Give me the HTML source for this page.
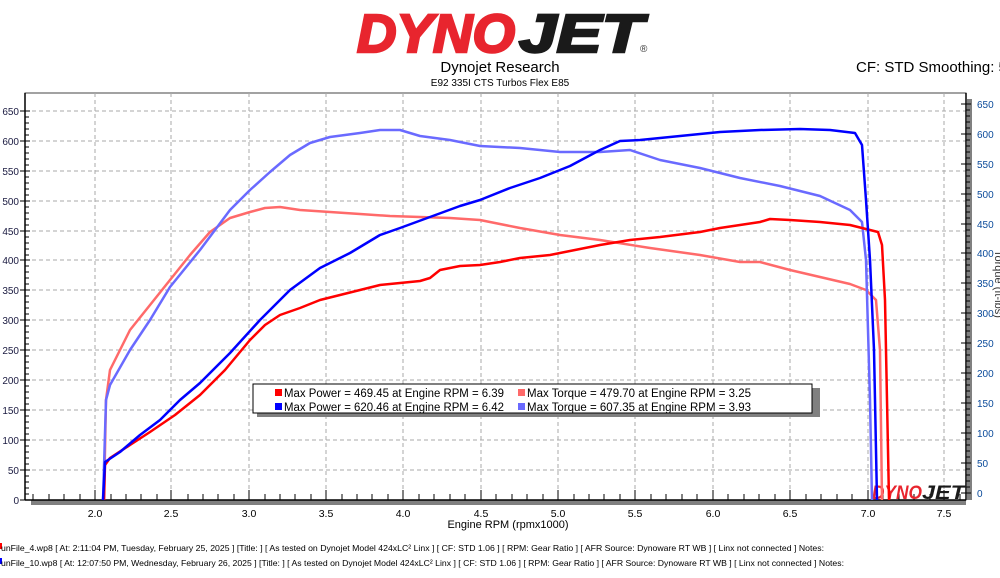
<!DOCTYPE html>
<html><head><meta charset="utf-8"><style>
html,body{margin:0;padding:0;background:#fff;width:1000px;height:578px;overflow:hidden}
svg{display:block}
text{font-family:"Liberation Sans","DejaVu Sans",sans-serif}
</style></head><body>
<svg width="1000" height="578" viewBox="0 0 1000 578" xmlns="http://www.w3.org/2000/svg">
<g>
<text x="357" y="52" font-size="54" font-weight="bold" font-style="italic" fill="#e8252e" stroke="#e8252e" stroke-width="2.5" textLength="158" lengthAdjust="spacingAndGlyphs">DYNO</text>
<text x="519" y="52" font-size="54" font-weight="bold" font-style="italic" fill="#1a1a1a" stroke="#1a1a1a" stroke-width="2.5" textLength="124" lengthAdjust="spacingAndGlyphs">JET</text>
<text x="640" y="52" font-size="10" fill="#333">®</text>
</g>
<text x="500" y="72" font-size="15" text-anchor="middle" fill="#000">Dynojet Research</text>
<text x="500" y="86" font-size="10" text-anchor="middle" fill="#000">E92 335I CTS Turbos Flex E85</text>
<text x="856" y="72" font-size="15" fill="#000">CF: STD Smoothing: 5</text>

<rect x="25" y="93" width="941" height="407" fill="#fff" stroke="#444" stroke-width="1"/>
<g stroke="#aaa" stroke-dasharray="4,3" stroke-width="1">
<line x1="25" x2="966" y1="111" y2="111"/><line x1="25" x2="966" y1="141" y2="141"/>
<line x1="25" x2="966" y1="171" y2="171"/><line x1="25" x2="966" y1="201" y2="201"/>
<line x1="25" x2="966" y1="231" y2="231"/><line x1="25" x2="966" y1="260" y2="260"/>
<line x1="25" x2="966" y1="290" y2="290"/><line x1="25" x2="966" y1="320" y2="320"/>
<line x1="25" x2="966" y1="350" y2="350"/><line x1="25" x2="966" y1="380" y2="380"/>
<line x1="25" x2="966" y1="410" y2="410"/><line x1="25" x2="966" y1="440" y2="440"/>
<line x1="25" x2="966" y1="470" y2="470"/>
<line y1="93" y2="500" x1="95" x2="95"/><line y1="93" y2="500" x1="171" x2="171"/>
<line y1="93" y2="500" x1="249" x2="249"/><line y1="93" y2="500" x1="326" x2="326"/>
<line y1="93" y2="500" x1="403" x2="403"/><line y1="93" y2="500" x1="481" x2="481"/>
<line y1="93" y2="500" x1="558" x2="558"/><line y1="93" y2="500" x1="635" x2="635"/>
<line y1="93" y2="500" x1="713" x2="713"/><line y1="93" y2="500" x1="790" x2="790"/>
<line y1="93" y2="500" x1="868" x2="868"/><line y1="93" y2="500" x1="944" x2="944"/>
</g>
<rect x="31" y="500" width="935" height="5" fill="#808080"/>
<rect x="967" y="99" width="5" height="401" fill="#808080"/>
<line x1="25" y1="93" x2="25" y2="500" stroke="#000" stroke-width="1.5"/>
<line x1="25" y1="500" x2="966" y2="500" stroke="#000" stroke-width="1.5"/>
<line x1="966" y1="93" x2="966" y2="500" stroke="#000" stroke-width="1.5"/>
<g stroke="#000" stroke-width="1">
<path d="M20 111h10M25 117h4M25 123h4M25 129h4M25 135h4M20 141h10M25 147h4M25 153h4M25 159h4M25 165h4M20 171h10M25 177h4M25 183h4M25 189h4M25 195h4M20 201h10M25 207h4M25 213h4M25 219h4M25 225h4M20 231h10M25 237h4M25 243h4M25 249h4M25 255h4M20 260h10M25 266h4M25 272h4M25 278h4M25 284h4M20 290h10M25 296h4M25 302h4M25 308h4M25 314h4M20 320h10M25 326h4M25 332h4M25 338h4M25 344h4M20 350h10M25 356h4M25 362h4M25 368h4M25 374h4M20 380h10M25 386h4M25 392h4M25 398h4M25 404h4M20 410h10M25 416h4M25 422h4M25 428h4M25 434h4M20 440h10M25 446h4M25 452h4M25 458h4M25 464h4M20 470h10M25 476h4M25 482h4M25 488h4M25 494h4M20 500h10"/>
</g>
<g stroke="#000" stroke-width="1" transform="translate(941,-7)">
<path d="M20 111h10M25 117h4M25 123h4M25 129h4M25 135h4M20 141h10M25 147h4M25 153h4M25 159h4M25 165h4M20 171h10M25 177h4M25 183h4M25 189h4M25 195h4M20 201h10M25 207h4M25 213h4M25 219h4M25 225h4M20 231h10M25 237h4M25 243h4M25 249h4M25 255h4M20 260h10M25 266h4M25 272h4M25 278h4M25 284h4M20 290h10M25 296h4M25 302h4M25 308h4M25 314h4M20 320h10M25 326h4M25 332h4M25 338h4M25 344h4M20 350h10M25 356h4M25 362h4M25 368h4M25 374h4M20 380h10M25 386h4M25 392h4M25 398h4M25 404h4M20 410h10M25 416h4M25 422h4M25 428h4M25 434h4M20 440h10M25 446h4M25 452h4M25 458h4M25 464h4M20 470h10M25 476h4M25 482h4M25 488h4M25 494h4M20 500h10"/>
</g>
<g stroke="#000" stroke-width="1">
<path d="M33 500v-6M49 500v-6M64 500v-6M80 500v-6M95 500v-10M111 500v-6M126 500v-6M141 500v-6M157 500v-6M171 500v-10M188 500v-6M203 500v-6M218 500v-6M234 500v-6M249 500v-10M265 500v-6M280 500v-6M295 500v-6M311 500v-6M326 500v-10M342 500v-6M357 500v-6M372 500v-6M388 500v-6M403 500v-10M419 500v-6M434 500v-6M450 500v-6M465 500v-6M481 500v-10M496 500v-6M512 500v-6M527 500v-6M543 500v-6M558 500v-10M574 500v-6M589 500v-6M604 500v-6M620 500v-6M635 500v-10M651 500v-6M666 500v-6M682 500v-6M697 500v-6M713 500v-10M728 500v-6M744 500v-6M759 500v-6M775 500v-6M790 500v-10M806 500v-6M821 500v-6M837 500v-6M852 500v-6M868 500v-10M883 500v-6M899 500v-6M914 500v-6M930 500v-6M944 500v-10M960 500v-6"/>
</g>
<g font-size="10" fill="#1a1a40" text-anchor="end">
<text x="19" y="115">650</text><text x="19" y="145">600</text><text x="19" y="175">550</text>
<text x="19" y="205">500</text><text x="19" y="235">450</text><text x="19" y="264">400</text>
<text x="19" y="294">350</text><text x="19" y="324">300</text><text x="19" y="354">250</text>
<text x="19" y="384">200</text><text x="19" y="414">150</text><text x="19" y="444">100</text>
<text x="19" y="474">50</text><text x="19" y="504">0</text>
</g>
<g font-size="10" fill="#0a4a9a">
<text x="977" y="108">650</text><text x="977" y="138">600</text><text x="977" y="168">550</text>
<text x="977" y="198">500</text><text x="977" y="228">450</text><text x="977" y="257">400</text>
<text x="977" y="287">350</text><text x="977" y="317">300</text><text x="977" y="347">250</text>
<text x="977" y="377">200</text><text x="977" y="407">150</text><text x="977" y="437">100</text>
<text x="977" y="467">50</text><text x="977" y="497">0</text>
</g>
<text transform="translate(995,250) rotate(90)" font-size="11" fill="#333">Torque (ft-lbs)</text>
<g font-size="10.5" fill="#000" text-anchor="middle">
<text x="95" y="517">2.0</text><text x="171" y="517">2.5</text><text x="249" y="517">3.0</text>
<text x="326" y="517">3.5</text><text x="403" y="517">4.0</text><text x="481" y="517">4.5</text>
<text x="558" y="517">5.0</text><text x="635" y="517">5.5</text><text x="713" y="517">6.0</text>
<text x="790" y="517">6.5</text><text x="868" y="517">7.0</text><text x="944" y="517">7.5</text>
</g>
<text x="508" y="528" font-size="11" text-anchor="middle" fill="#000">Engine RPM (rpmx1000)</text>

<text x="872" y="499" font-size="19" font-weight="bold" font-style="italic" fill="#e8252e" textLength="50" lengthAdjust="spacingAndGlyphs">DYNO</text>
<text x="922" y="499" font-size="19" font-weight="bold" font-style="italic" fill="#1a1a1a" textLength="43" lengthAdjust="spacingAndGlyphs">JET</text>

<g fill="none" stroke-width="2.5" stroke-linejoin="round">
<polyline stroke="#ff6a6a" points="104,500 106,400 110,370 130,330 150,305 170,280 190,255 210,232 230,218 250,212 265,208 280,207 300,210 330,212 360,214 390,216 420,217 450,218 480,220 520,228 560,235 600,240 650,248 700,255 740,262 760,262 790,270 820,277 850,284 866,290 876,300 880,350 882,500"/>
<polyline stroke="#6a6aff" points="103,500 106,400 110,385 130,350 150,320 170,287 200,250 230,210 250,190 270,172 290,155 310,143 330,137 360,133 380,130 400,130 420,136 450,140 480,146 520,148 560,152 600,152 630,150 660,160 700,168 740,178 780,186 820,196 850,210 862,222 866,260 870,400 872,500"/>
<polyline stroke="#ff0000" points="104,500 105,465 110,458 130,445 150,432 175,415 200,395 225,370 250,340 265,325 280,315 300,308 320,300 340,295 360,290 380,285 400,283 420,281 430,278 440,270 460,266 480,265 500,262 520,258 550,255 580,249 600,245 630,240 660,237 700,232 720,228 740,225 760,222 770,219 790,220 820,222 850,225 870,230 878,232 882,245 885,300 887,400 889,500"/>
<polyline stroke="#0000ff" points="103,500 105,462 120,452 140,435 160,420 180,400 200,383 230,353 260,320 290,290 320,268 350,253 380,235 400,228 430,217 460,206 480,200 510,188 540,178 570,166 600,150 620,141 640,140 680,136 720,132 760,130 800,129 830,130 855,133 862,145 866,200 870,260 874,350 877,500"/>
</g>

<rect x="257" y="388" width="563" height="29" fill="#808080"/>
<rect x="253" y="384" width="559" height="29" fill="#fff" stroke="#000" stroke-width="1"/>
<rect x="275" y="389" width="7" height="7" fill="#ff0000"/>
<rect x="275" y="403" width="7" height="7" fill="#0000ff"/>
<rect x="518" y="389" width="7" height="7" fill="#ff6a6a"/>
<rect x="518" y="403" width="7" height="7" fill="#6a6aff"/>
<g font-size="11.5" fill="#000">
<text x="284" y="397" textLength="220" lengthAdjust="spacingAndGlyphs">Max Power = 469.45 at Engine RPM = 6.39</text>
<text x="284" y="411" textLength="220" lengthAdjust="spacingAndGlyphs">Max Power = 620.46 at Engine RPM = 6.42</text>
<text x="527" y="397" textLength="224" lengthAdjust="spacingAndGlyphs">Max Torque = 479.70 at Engine RPM = 3.25</text>
<text x="527" y="411" textLength="224" lengthAdjust="spacingAndGlyphs">Max Torque = 607.35 at Engine RPM = 3.93</text>
</g>

<rect x="0" y="543" width="2" height="6" fill="#f00"/>
<rect x="0" y="558" width="2" height="6" fill="#00f"/>
<g font-size="8.5" fill="#000">
<text x="1" y="551" textLength="823" lengthAdjust="spacingAndGlyphs">unFile_4.wp8 [ At: 2:11:04 PM, Tuesday, February 25, 2025 ] [Title: ]  [ As tested on Dynojet Model 424xLC² Linx ] [ CF: STD 1.06 ] [ RPM: Gear Ratio ] [ AFR Source: Dynoware RT WB ] [ Linx not connected ] Notes:</text>
<text x="1" y="566" textLength="843" lengthAdjust="spacingAndGlyphs">unFile_10.wp8 [ At: 12:07:50 PM, Wednesday, February 26, 2025 ] [Title: ]  [ As tested on Dynojet Model 424xLC² Linx ] [ CF: STD 1.06 ] [ RPM: Gear Ratio ] [ AFR Source: Dynoware RT WB ] [ Linx not connected ] Notes:</text>
</g>
</svg>
</body></html>
